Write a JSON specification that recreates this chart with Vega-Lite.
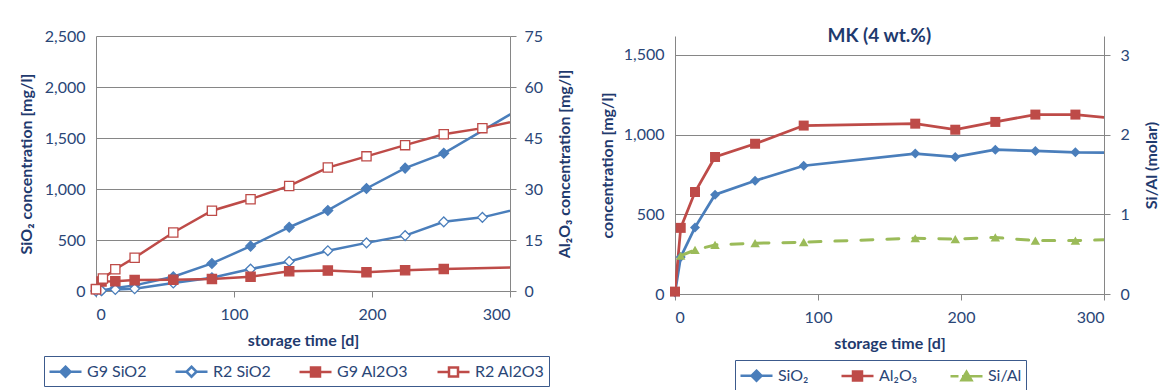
{
  "$schema": "https://vega.github.io/schema/vega-lite/v6.json",
  "background": "white",
  "padding": {"left": 18, "top": 27, "right": 0, "bottom": 0},
  "spacing": 26,
  "datasets": {
    "left": [
      {"day": 0, "v": 0, "s": "G9 SiO2", "g": "Si"},
      {"day": 4, "v": 5, "s": "G9 SiO2", "g": "Si"},
      {"day": 14, "v": 30, "s": "G9 SiO2", "g": "Si"},
      {"day": 28, "v": 55, "s": "G9 SiO2", "g": "Si"},
      {"day": 56, "v": 140, "s": "G9 SiO2", "g": "Si"},
      {"day": 84, "v": 270, "s": "G9 SiO2", "g": "Si"},
      {"day": 112, "v": 440, "s": "G9 SiO2", "g": "Si"},
      {"day": 140, "v": 625, "s": "G9 SiO2", "g": "Si"},
      {"day": 168, "v": 790, "s": "G9 SiO2", "g": "Si"},
      {"day": 196, "v": 1005, "s": "G9 SiO2", "g": "Si"},
      {"day": 224, "v": 1205, "s": "G9 SiO2", "g": "Si"},
      {"day": 252, "v": 1350, "s": "G9 SiO2", "g": "Si"},
      {"day": 330, "v": 1968, "s": "G9 SiO2", "g": "Si"},
      {"day": 0, "v": 0, "s": "R2 SiO2", "g": "Si"},
      {"day": 4, "v": 3, "s": "R2 SiO2", "g": "Si"},
      {"day": 14, "v": 15, "s": "R2 SiO2", "g": "Si"},
      {"day": 28, "v": 22, "s": "R2 SiO2", "g": "Si"},
      {"day": 56, "v": 78, "s": "R2 SiO2", "g": "Si"},
      {"day": 84, "v": 130, "s": "R2 SiO2", "g": "Si"},
      {"day": 112, "v": 215, "s": "R2 SiO2", "g": "Si"},
      {"day": 140, "v": 290, "s": "R2 SiO2", "g": "Si"},
      {"day": 168, "v": 395, "s": "R2 SiO2", "g": "Si"},
      {"day": 196, "v": 472, "s": "R2 SiO2", "g": "Si"},
      {"day": 224, "v": 543, "s": "R2 SiO2", "g": "Si"},
      {"day": 252, "v": 678, "s": "R2 SiO2", "g": "Si"},
      {"day": 280, "v": 722, "s": "R2 SiO2", "g": "Si"},
      {"day": 330, "v": 885, "s": "R2 SiO2", "g": "Si"},
      {"day": 0, "v": 0.6, "s": "G9 Al2O3", "g": "Al"},
      {"day": 4, "v": 2.8, "s": "G9 Al2O3", "g": "Al"},
      {"day": 14, "v": 2.9, "s": "G9 Al2O3", "g": "Al"},
      {"day": 28, "v": 3.2, "s": "G9 Al2O3", "g": "Al"},
      {"day": 56, "v": 3.3, "s": "G9 Al2O3", "g": "Al"},
      {"day": 84, "v": 3.5, "s": "G9 Al2O3", "g": "Al"},
      {"day": 112, "v": 4.2, "s": "G9 Al2O3", "g": "Al"},
      {"day": 140, "v": 5.8, "s": "G9 Al2O3", "g": "Al"},
      {"day": 168, "v": 6.0, "s": "G9 Al2O3", "g": "Al"},
      {"day": 196, "v": 5.5, "s": "G9 Al2O3", "g": "Al"},
      {"day": 224, "v": 6.1, "s": "G9 Al2O3", "g": "Al"},
      {"day": 252, "v": 6.5, "s": "G9 Al2O3", "g": "Al"},
      {"day": 330, "v": 7.15, "s": "G9 Al2O3", "g": "Al"},
      {"day": 0, "v": 0.5, "s": "R2 Al2O3", "g": "Al"},
      {"day": 5, "v": 3.7, "s": "R2 Al2O3", "g": "Al"},
      {"day": 14, "v": 6.4, "s": "R2 Al2O3", "g": "Al"},
      {"day": 28, "v": 9.8, "s": "R2 Al2O3", "g": "Al"},
      {"day": 56, "v": 17.2, "s": "R2 Al2O3", "g": "Al"},
      {"day": 84, "v": 23.6, "s": "R2 Al2O3", "g": "Al"},
      {"day": 112, "v": 27.0, "s": "R2 Al2O3", "g": "Al"},
      {"day": 140, "v": 30.9, "s": "R2 Al2O3", "g": "Al"},
      {"day": 168, "v": 36.3, "s": "R2 Al2O3", "g": "Al"},
      {"day": 196, "v": 39.6, "s": "R2 Al2O3", "g": "Al"},
      {"day": 224, "v": 42.9, "s": "R2 Al2O3", "g": "Al"},
      {"day": 252, "v": 46.1, "s": "R2 Al2O3", "g": "Al"},
      {"day": 280, "v": 47.9, "s": "R2 Al2O3", "g": "Al"},
      {"day": 330, "v": 52.2, "s": "R2 Al2O3", "g": "Al"}
    ],
    "right": [
      {"day": 0, "v": 10, "s": "SiO₂", "g": "c"},
      {"day": 4, "v": 232, "s": "SiO₂", "g": "c"},
      {"day": 14, "v": 418, "s": "SiO₂", "g": "c"},
      {"day": 28, "v": 623, "s": "SiO₂", "g": "c"},
      {"day": 56, "v": 711, "s": "SiO₂", "g": "c"},
      {"day": 90, "v": 805, "s": "SiO₂", "g": "c"},
      {"day": 168, "v": 881, "s": "SiO₂", "g": "c"},
      {"day": 196, "v": 860, "s": "SiO₂", "g": "c"},
      {"day": 224, "v": 906, "s": "SiO₂", "g": "c"},
      {"day": 252, "v": 898, "s": "SiO₂", "g": "c"},
      {"day": 280, "v": 889, "s": "SiO₂", "g": "c"},
      {"day": 330, "v": 884, "s": "SiO₂", "g": "c"},
      {"day": 0, "v": 15, "s": "Al₂O₃", "g": "c"},
      {"day": 4, "v": 415, "s": "Al₂O₃", "g": "c"},
      {"day": 14, "v": 640, "s": "Al₂O₃", "g": "c"},
      {"day": 28, "v": 860, "s": "Al₂O₃", "g": "c"},
      {"day": 56, "v": 943, "s": "Al₂O₃", "g": "c"},
      {"day": 90, "v": 1057, "s": "Al₂O₃", "g": "c"},
      {"day": 168, "v": 1069, "s": "Al₂O₃", "g": "c"},
      {"day": 196, "v": 1031, "s": "Al₂O₃", "g": "c"},
      {"day": 224, "v": 1080, "s": "Al₂O₃", "g": "c"},
      {"day": 252, "v": 1126, "s": "Al₂O₃", "g": "c"},
      {"day": 280, "v": 1126, "s": "Al₂O₃", "g": "c"},
      {"day": 330, "v": 1083, "s": "Al₂O₃", "g": "c"},
      {"day": 4, "v": 0.48, "s": "Si/Al", "g": "r"},
      {"day": 14, "v": 0.553, "s": "Si/Al", "g": "r"},
      {"day": 28, "v": 0.616, "s": "Si/Al", "g": "r"},
      {"day": 56, "v": 0.638, "s": "Si/Al", "g": "r"},
      {"day": 90, "v": 0.65, "s": "Si/Al", "g": "r"},
      {"day": 168, "v": 0.70, "s": "Si/Al", "g": "r"},
      {"day": 196, "v": 0.69, "s": "Si/Al", "g": "r"},
      {"day": 224, "v": 0.71, "s": "Si/Al", "g": "r"},
      {"day": 252, "v": 0.67, "s": "Si/Al", "g": "r"},
      {"day": 280, "v": 0.67, "s": "Si/Al", "g": "r"},
      {"day": 330, "v": 0.694, "s": "Si/Al", "g": "r"}
    ]
  },
  "config": {
    "font": "Lato",
    "view": {"stroke": null},
    "axis": {
      "labelFont": "Lato", "labelFontSize": 16, "labelColor": "#2a4677",
      "titleFont": "Lato", "titleFontSize": 16, "titleFontWeight": "bold", "titleColor": "#1f3a6e",
      "domainColor": "#868686", "tickColor": "#868686", "gridColor": "#868686",
      "gridWidth": 1, "domainWidth": 1, "tickWidth": 1
    },
    "legend": {
      "labelFont": "Lato", "labelFontSize": 16, "labelColor": "#2a4677", "labelLimit": 200
    },
    "title": {"font": "Lato", "fontSize": 19, "fontWeight": "bold", "color": "#1f3a6e"}
  },
  "resolve": {"scale": {"color": "independent", "fill": "independent", "stroke": "independent", "shape": "independent", "x": "independent", "y": "independent"}, "legend": {"color": "independent"}},
  "hconcat": [
    {
      "width": 414,
      "height": 255,
      "data": {"name": "left"},
      "encoding": {
        "x": {"field": "day", "type": "quantitative", "scale": {"domain": [0, 300], "nice": false},
              "axis": {"values": [0, 100, 200, 300], "title": "storage time [d]", "grid": false, "tickSize": 6, "labelPadding": 9, "titlePadding": 10}}
      },
      "layer": [
        {
          "transform": [{"filter": "datum.g == 'Si'"}],
          "encoding": {
            "y": {"field": "v", "type": "quantitative", "scale": {"domain": [0, 2500], "nice": false},
                  "axis": {"orient": "left", "title": "SiO₂ concentration [mg/l]", "values": [0, 500, 1000, 1500, 2000, 2500], "format": ",.0f", "ticks": false, "labelPadding": 11, "titlePadding": 10, "grid": true}}
          },
          "layer": [
            {
              "mark": {"type": "line", "clip": true, "strokeWidth": 2.5},
              "encoding": {
                "color": {"field": "s", "type": "nominal",
                  "scale": {"domain": ["G9 SiO2", "R2 SiO2", "G9 Al2O3", "R2 Al2O3"], "range": ["#4a7ebb", "#4a7ebb", "#be4b48", "#be4b48"]},
                  "legend": {"title": null, "orient": "none", "legendX": -52, "legendY": 320, "direction": "horizontal", "columns": 4,
                    "symbolSize": 400, "symbolStrokeWidth": 2.5, "labelOffset": 16, "columnPadding": 23, "padding": 4, "strokeColor": "#3c5a8c",
                    "encode": {"symbols": {"update": {
                      "shape": {"signal": "datum.value == 'G9 SiO2' ? 'M-1,0L2.2,0M0.6,-0.5L1.1,0L0.6,0.5L0.1,0Z' : datum.value == 'R2 SiO2' ? 'M-1,0L0.1,0M1.1,0L2.2,0M0.6,-0.5L1.1,0L0.6,0.5L0.1,0Z' : datum.value == 'G9 Al2O3' ? 'M-1,0L2.2,0M0.15,-0.45L1.05,-0.45L1.05,0.45L0.15,0.45Z' : 'M-1,0L0.15,0M1.05,0L2.2,0M0.15,-0.45L1.05,-0.45L1.05,0.45L0.15,0.45Z'"},
                      "fill": {"signal": "datum.value == 'G9 SiO2' ? '#4a7ebb' : datum.value == 'G9 Al2O3' ? '#be4b48' : '#ffffff'"}
                    }}}}
                }
              }
            },
            {
              "transform": [{"filter": "datum.day <= 300"}],
              "mark": {"type": "point", "filled": true, "strokeWidth": 1.3, "opacity": 1},
              "encoding": {
                "fill": {"field": "s", "type": "nominal", "scale": {"domain": ["R2 SiO2", "G9 SiO2", "G9 Al2O3", "R2 Al2O3"], "range": ["#ffffff", "#4a7ebb", "#be4b48", "#ffffff"]}, "legend": null},
                "stroke": {"field": "s", "type": "nominal", "scale": {"domain": ["G9 Al2O3", "G9 SiO2", "R2 SiO2", "R2 Al2O3"], "range": ["#be4b48", "#4a7ebb", "#4a7ebb", "#be4b48"]}, "legend": null},
                "shape": {"field": "s", "type": "nominal", "scale": {"domain": ["R2 Al2O3", "G9 SiO2", "R2 SiO2", "G9 Al2O3"], "range": ["square", "diamond", "diamond", "square"]}, "legend": null},
                "size": {"value": 95}
              }
            }
          ]
        },
        {
          "transform": [{"filter": "datum.g == 'Al'"}],
          "encoding": {
            "y": {"field": "v", "type": "quantitative", "scale": {"domain": [0, 75], "nice": false},
                  "axis": {"orient": "right", "title": "Al₂O₃ concentration [mg/l]", "values": [0, 15, 30, 45, 60, 75], "tickSize": 6, "labelPadding": 8, "titlePadding": 14, "grid": false, "titleAngle": 270, "titleBaseline": "top"}}
          },
          "layer": [
            {
              "mark": {"type": "line", "clip": true, "strokeWidth": 2.5},
              "encoding": {
                "color": {"field": "s", "type": "nominal",
                  "scale": {"domain": ["G9 SiO2", "R2 SiO2", "G9 Al2O3", "R2 Al2O3"], "range": ["#4a7ebb", "#4a7ebb", "#be4b48", "#be4b48"]}}
              }
            },
            {
              "transform": [{"filter": "datum.day <= 300"}],
              "mark": {"type": "point", "filled": true, "strokeWidth": 1.3, "opacity": 1},
              "encoding": {
                "fill": {"field": "s", "type": "nominal", "scale": {"domain": ["R2 SiO2", "G9 SiO2", "G9 Al2O3", "R2 Al2O3"], "range": ["#ffffff", "#4a7ebb", "#be4b48", "#ffffff"]}, "legend": null},
                "stroke": {"field": "s", "type": "nominal", "scale": {"domain": ["G9 Al2O3", "G9 SiO2", "R2 SiO2", "R2 Al2O3"], "range": ["#be4b48", "#4a7ebb", "#4a7ebb", "#be4b48"]}, "legend": null},
                "shape": {"field": "s", "type": "nominal", "scale": {"domain": ["R2 Al2O3", "G9 SiO2", "R2 SiO2", "G9 Al2O3"], "range": ["square", "diamond", "diamond", "square"]}, "legend": null},
                "size": {"value": 85}
              }
            }
          ]
        }
      ],
      "resolve": {"scale": {"y": "independent"}}
    },
    {
      "width": 429,
      "height": 258,
      "title": {"text": "MK (4 wt.%)", "frame": "bounds", "offset": -10},
      "data": {"name": "right"},
      "encoding": {
        "x": {"field": "day", "type": "quantitative", "scale": {"domain": [0, 300], "nice": false},
              "axis": {"values": [0, 100, 200, 300], "title": "storage time [d]", "grid": false, "tickSize": 6, "labelPadding": 9, "titlePadding": 10}}
      },
      "layer": [
        {
          "transform": [{"filter": "datum.g == 'c'"}],
          "encoding": {
            "y": {"field": "v", "type": "quantitative", "scale": {"domain": [0, 1619.2], "nice": false},
                  "axis": {"orient": "left", "title": "concentration [mg/l]", "values": [0, 500, 1000, 1500], "format": ",.0f", "ticks": false, "labelPadding": 11, "titlePadding": 8, "grid": true}}
          },
          "layer": [
            {
              "mark": {"type": "line", "clip": true, "strokeWidth": 2.75},
              "encoding": {
                "color": {"field": "s", "type": "nominal",
                  "scale": {"domain": ["SiO₂", "Al₂O₃", "Si/Al"], "range": ["#4a7ebb", "#be4b48", "#9bbb59"]},
                  "legend": {"title": null, "orient": "none", "legendX": 60, "legendY": 324, "direction": "horizontal", "columns": 3,
                    "symbolSize": 400, "symbolStrokeWidth": 2.5, "labelOffset": 16, "columnPadding": 27, "padding": 4, "strokeColor": "#3c5a8c",
                    "encode": {"symbols": {"update": {
                      "shape": {"signal": "datum.value == 'SiO₂' ? 'M-1,0L2.2,0M0.6,-0.5L1.1,0L0.6,0.5L0.1,0Z' : datum.value == 'Al₂O₃' ? 'M-1,0L2.2,0M0.15,-0.45L1.05,-0.45L1.05,0.45L0.15,0.45Z' : 'M-1,0L-0.2,0M0.15,0L2.2,0M0.6,-0.45L1.1,0.4L0.1,0.4Z'"},
                      "fill": {"signal": "datum.value == 'SiO₂' ? '#4a7ebb' : datum.value == 'Al₂O₃' ? '#be4b48' : '#9bbb59'"}
                    }}}}
                }
              }
            },
            {
              "transform": [{"filter": "datum.day <= 300"}],
              "mark": {"type": "point", "filled": true, "opacity": 1},
              "encoding": {
                "color": {"field": "s", "type": "nominal", "scale": {"domain": ["SiO₂", "Al₂O₃", "Si/Al"], "range": ["#4a7ebb", "#be4b48", "#9bbb59"]}},
                "shape": {"field": "s", "type": "nominal", "scale": {"domain": ["Si/Al", "SiO₂", "Al₂O₃"], "range": ["triangle-up", "diamond", "square"]}, "legend": null},
                "size": {"value": 100}
              }
            }
          ]
        },
        {
          "transform": [{"filter": "datum.g == 'r'"}],
          "encoding": {
            "y": {"field": "v", "type": "quantitative", "scale": {"domain": [0, 3.2385], "nice": false},
                  "axis": {"orient": "right", "title": "Si/Al (molar)", "values": [0, 1, 2, 3], "tickSize": 6, "labelPadding": 10, "titlePadding": 14, "grid": false, "titleAngle": 270, "titleBaseline": "top"}}
          },
          "layer": [
            {
              "mark": {"type": "line", "clip": true, "strokeWidth": 3, "strokeDash": [12, 14], "strokeCap": "round"},
              "encoding": {
                "color": {"field": "s", "type": "nominal", "scale": {"domain": ["SiO₂", "Al₂O₃", "Si/Al"], "range": ["#4a7ebb", "#be4b48", "#9bbb59"]}}
              }
            },
            {
              "transform": [{"filter": "datum.day <= 300"}],
              "mark": {"type": "point", "filled": true, "opacity": 1},
              "encoding": {
                "color": {"field": "s", "type": "nominal", "scale": {"domain": ["SiO₂", "Al₂O₃", "Si/Al"], "range": ["#4a7ebb", "#be4b48", "#9bbb59"]}},
                "shape": {"field": "s", "type": "nominal", "scale": {"domain": ["Si/Al", "SiO₂", "Al₂O₃"], "range": ["triangle-up", "diamond", "square"]}, "legend": null},
                "size": {"value": 90}
              }
            }
          ]
        }
      ],
      "resolve": {"scale": {"y": "independent"}}
    }
  ]
}
